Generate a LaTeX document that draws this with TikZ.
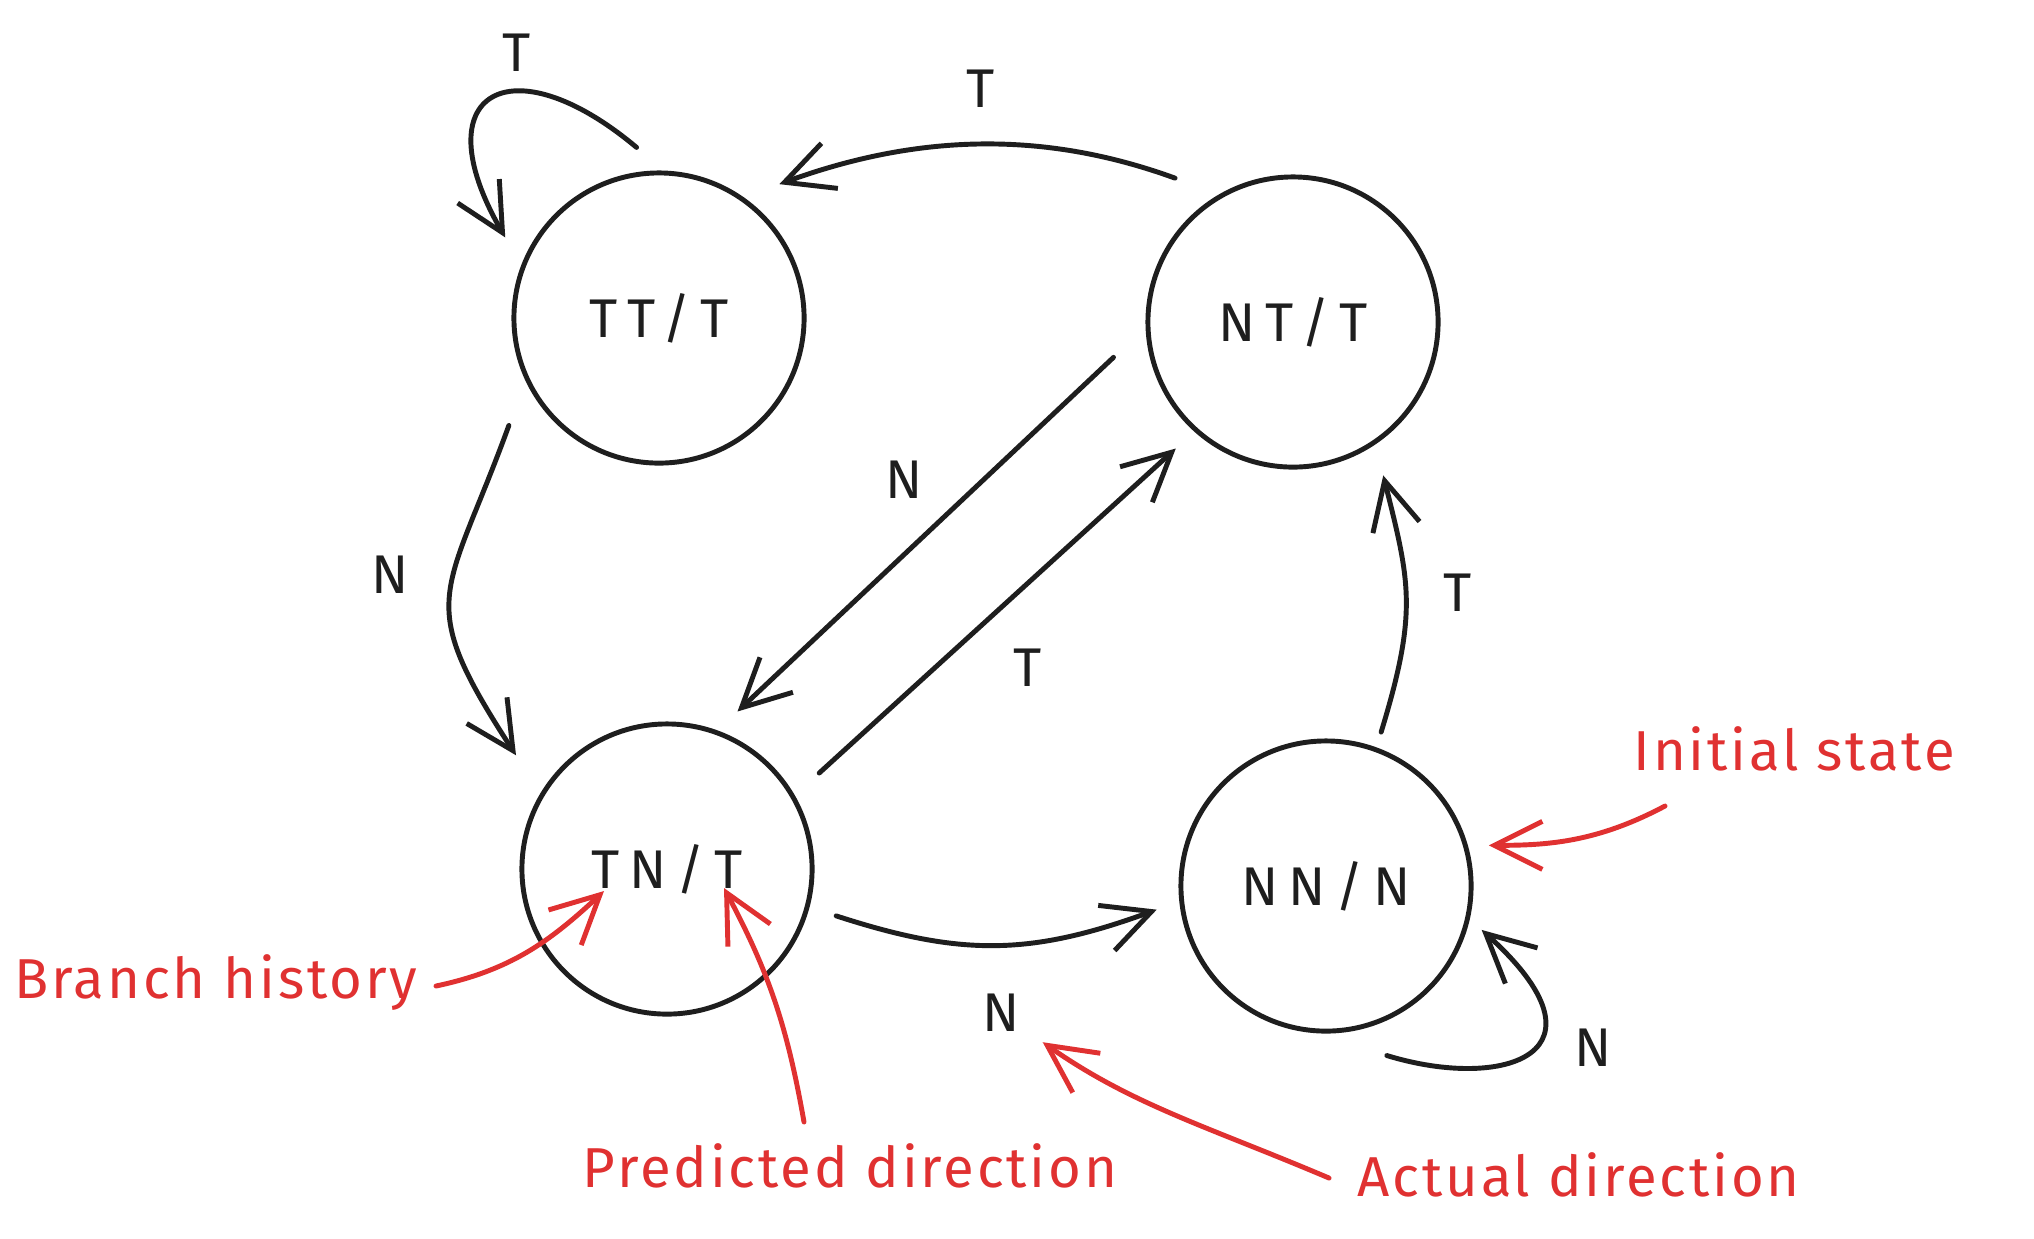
\documentclass[tikz,border=0pt]{standalone}
\usepackage{fontspec}
\setmainfont{Fira Sans}
\newfontfamily\statefont[LetterSpace=18]{Fira Sans}
\newfontfamily\notefont[LetterSpace=5]{Fira Sans}
\usetikzlibrary{arrows.meta,calc}
\definecolor{ink}{HTML}{1E1E1E}
\definecolor{memored}{HTML}{E03131}

\begin{document}
\begin{tikzpicture}[x=0.01cm,y=-0.01cm,
  state/.style={circle,draw=ink,line width=1.4pt,minimum size=2.9cm,inner sep=0pt,
    text=ink,font=\statefont\fontsize{15.5}{18}\selectfont},
  lbl/.style={text=ink,inner sep=1pt,font=\statefont\fontsize{15.5}{18}\selectfont},
  trans/.style={draw=ink,line width=1.4pt,line cap=round,
    -{Straight Barb[length=4.8mm,width=4.8mm]}},
  memo/.style={text=memored,inner sep=0pt,font=\notefont\fontsize{16}{19}\selectfont},
  memoarrow/.style={draw=memored,line width=1.4pt,line cap=round,
    -{Straight Barb[length=4.8mm,width=4.8mm]}}]
\useasboundingbox[fill=white] (0,0) rectangle (2034,1238);

% 四个状态
\node[state] (TT) at (659,318) {TT/T};
\node[state] (NT) at (1293,322) {NT/T};
\node[state] (TN) at (667,869) {TN/T};
\node[state] (NN) at (1326,886) {NN/N};

% 状态转移
\draw[trans,shorten <=3.6mm,shorten >=3.2mm] (TT.88) to[out=140,in=120,distance=2cm] (TT.159); % TT 自环
\draw[trans,shorten <=4.7mm,shorten >=3.8mm] (NT.120) to[out=160,in=20] (TT.55);
\draw[trans,shorten <=4.8mm,shorten >=4.5mm] (TT.205) to[out=250,in=123,looseness=1.45] (TN.149);
\draw[trans,shorten <=4.4mm,shorten >=2.75mm] (NT.182) -- (TN.70);
\draw[trans,shorten <=3.3mm,shorten >=2.5mm] (TN.30) -- (NT.228);
\draw[trans,shorten <=1.6mm,shorten >=3.2mm] (NN.70) to[out=73,in=284,looseness=1.2] (NT.304);
\draw[trans,shorten <=2.8mm,shorten >=2.4mm] (TN.345) to[out=-18,in=200,looseness=1.1] (NN.186);
\draw[trans,shorten <=7.7mm,shorten >=1.6mm] (NN.265) to[out=-17,in=-42,distance=2cm] (NN.347); % NN 自环

% 转移标记
\node[lbl] (tLoopTT) at (517,53) {T};
\node[lbl] (tNTTT) at (981,89) {T};
\node[lbl] (nTTTN) at (390,575) {N};
\node[lbl] (nNTTN) at (904,480) {N};
\node[lbl] (tTNNT) at (1028,668) {T};
\node[lbl] (tNNNT) at (1458,593) {T};
\node[lbl] (nTNNN) at (1001,1013) {N};
\node[lbl] (nLoopNN) at (1593,1048) {N};

% 红色注释
\node[memo,anchor=base west] (inits) at (1633,770) {Initial state};
\node[memo,anchor=base east] (branch) at (418,998) {Branch history};
\node[memo,anchor=base] (pred) at (850,1187) {Predicted direction};
\node[memo,anchor=base west] (act) at (1357,1196) {Actual direction};

\draw[memoarrow,shorten >=2.1mm] ([shift={(32,36)}]inits.base west) to[out=208,in=0] (NN.16);
\draw[memoarrow] ([shift={(18,-12)}]branch.base east) to[out=12,in=223] ($(TN.center)+(-63,22)$);
\draw[memoarrow] ([shift={(-46,-65)}]pred.base) to[out=100,in=298] ($(TN.center)+(57,19)$);
\draw[memoarrow,shorten >=2.3mm] ([shift={(-28,-18)}]act.base west) to[out=157,in=-35] (nTNNN);
\end{tikzpicture}
\end{document}
